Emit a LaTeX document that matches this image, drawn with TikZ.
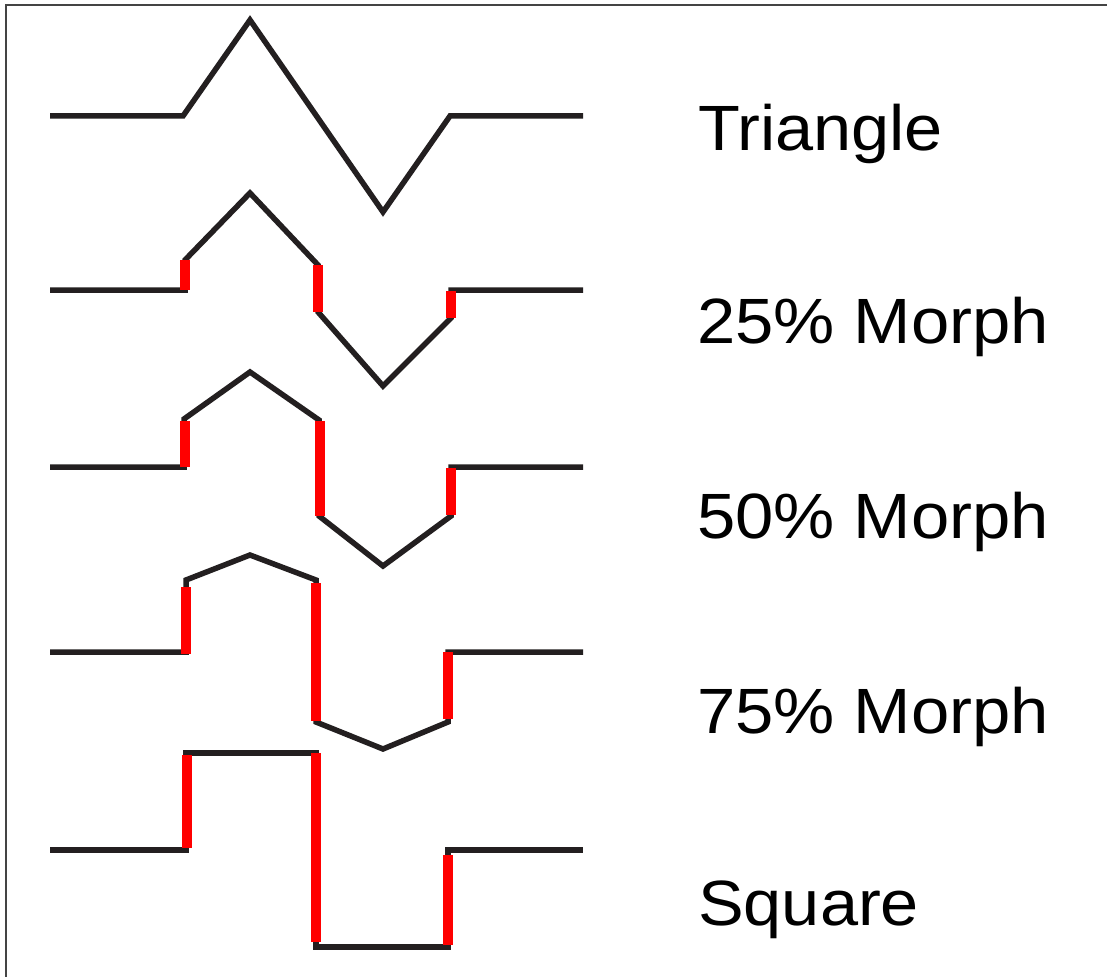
\documentclass[tikz,border=0pt]{standalone}
\usepackage{fontspec}
\setmainfont{Liberation Sans}
\definecolor{wblack}{HTML}{231F20}
\definecolor{framegray}{HTML}{444444}
\begin{document}
\begin{tikzpicture}[x=1pt,y=-1pt,
  wave/.style={draw=wblack,line width=5.5pt,line join=miter,line cap=butt},
  jump/.style={draw=red,line width=10pt,line cap=butt},
  lbl/.style={anchor=base west,inner sep=0pt,font=\fontsize{64}{70}\selectfont},
  frameline/.style={draw=framegray,line width=2pt}]
\useasboundingbox (0,0) rectangle (1107,976);
\fill[white] (0,0) rectangle (1107,976);
\draw[frameline] (6,980) -- (6,5) -- (1110,5);
% Triangle
\draw[wave] (50,116) -- (183,116) -- (250,20) -- (383,212) -- (450,116) -- (583,116);
% 25%
\draw[wave] (50,290) -- (185,290) -- (185,260) -- (250,193) -- (318,265) -- (318,312) -- (383,386) -- (451,318) -- (451,290) -- (583,290);
\draw[jump] (185,290) -- (185,260);
\draw[jump] (318,265) -- (318,312);
\draw[jump] (451,318) -- (451,291);
% 50%
\draw[wave] (50,467) -- (184,467) -- (184,419) -- (250,372) -- (319,420) -- (319,516) -- (383,566) -- (451,516) -- (451,467) -- (583,467);
\draw[jump] (185,467) -- (185,421);
\draw[jump] (320,421) -- (320,516);
\draw[jump] (451,515) -- (451,468);
% 75%
\draw[wave] (50,652) -- (186,652) -- (186,580) -- (250,555) -- (316,580) -- (316,722) -- (383,749) -- (448,722) -- (448,652) -- (583,652);
\draw[jump] (186,654) -- (186,587);
\draw[jump] (316,583) -- (316,721);
\draw[jump] (448,652) -- (448,719);
% Square
\draw[wave] (50,850) -- (186,850) -- (186,753) -- (316,753) -- (316,947) -- (448,947) -- (448,850) -- (583,850);
\draw[jump] (187,848) -- (187,755);
\draw[jump] (316,753) -- (316,942);
\draw[jump] (448,855) -- (448,945);
% labels
\node[lbl] (ltri) at (698,151) {\scalebox{1.07}[1]{Triangle}};
\node[lbl] (l25) at (697,343) {\scalebox{1.075}[1]{25\% Morph}};
\node[lbl] (l50) at (697,538) {\scalebox{1.075}[1]{50\% Morph}};
\node[lbl] (l75) at (697,733) {\scalebox{1.075}[1]{75\% Morph}};
\node[lbl] (lsq) at (698,925) {\scalebox{1.07}[1]{Square}};
\end{tikzpicture}
\end{document}
